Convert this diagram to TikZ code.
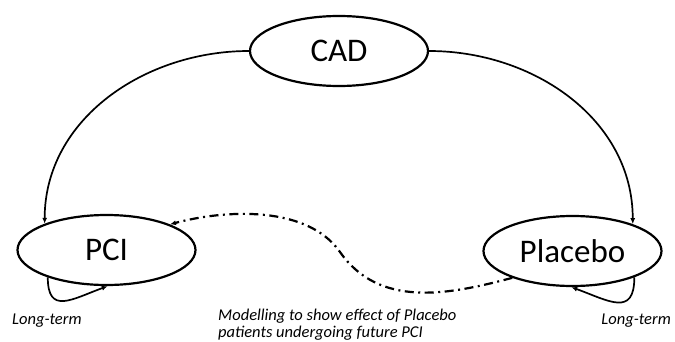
\documentclass[tikz,border=0pt]{standalone}
\usepackage{fontspec}
\setmainfont{Carlito}
\usepackage{tikz}
\usetikzlibrary{arrows.meta, positioning, shapes.geometric}

\begin{document}
\begin{tikzpicture}[
    x=1pt, y=1pt,
    state/.style={draw=black, ellipse, line width=2.2pt, minimum width=178pt,
      minimum height=70pt, inner sep=2pt, font=\fontsize{33}{36}\selectfont},
    note/.style={inner sep=0pt, font=\fontsize{16.5}{17}\selectfont\itshape, align=left},
    arr/.style={-{Latex[length=6pt,width=5pt]}, line width=1.7pt},
    future/.style={arr, line width=2.2pt, dash pattern=on 9pt off 4.5pt on 2pt off 4.5pt}
  ]
    \useasboundingbox (0,0) rectangle (675,341);
    \node[state] (cad) at (339,290) {CAD};
    \node[state] (pci) at (106.5,91) {PCI};
    \node[state] (plac) at (572.5,90) {Placebo};
    \node[note, anchor=base west] (ltl) at (12,17) {Long-term};
    \node[note, anchor=base east] (ltr) at (671,17) {Long-term};
    \node[note, anchor=base west] (model) at (218,4) {Modelling to show effect of Placebo\\patients undergoing future PCI};
    \coordinate (bend) at (340,89);
    \draw[arr] (cad.west) to[out=180, in=90] (pci.157);
    \draw[arr] (cad.east) to[out=0, in=90] (plac.24);
    \draw[arr] (pci.205) to[out=-90, in=200, looseness=1.6] (pci.272);
    \draw[arr] (plac.337) to[out=-90, in=-20, looseness=1.6] (plac.268);
    \draw[future] (plac.204) to[out=195, in=-55] (bend) to[out=125, in=15, looseness=0.85] (pci.22);
\end{tikzpicture}
\end{document}
